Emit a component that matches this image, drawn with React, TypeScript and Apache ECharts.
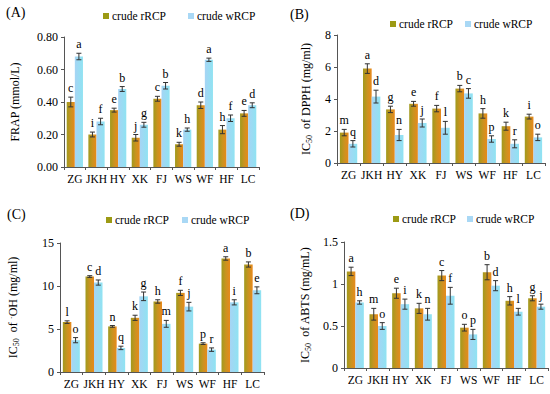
import React, { useEffect, useRef } from "react";
import * as echarts from "echarts";

const categories = ["ZG", "JKH", "HY", "XK", "FJ", "WS", "WF", "HF", "LC"];

// (A) FRAP
const frapR = [0.40, 0.20, 0.35, 0.18, 0.42, 0.14, 0.38, 0.23, 0.33];
const frapW = [0.68, 0.28, 0.48, 0.26, 0.50, 0.23, 0.66, 0.30, 0.38];
const frapRErr = [0.03, 0.015, 0.012, 0.02, 0.015, 0.012, 0.02, 0.025, 0.018];
const frapWErr = [0.02, 0.02, 0.015, 0.015, 0.02, 0.01, 0.01, 0.02, 0.015];
const frapRLet = ["c", "i", "e", "j", "c", "k", "d", "h", "e"];
const frapWLet = ["a", "f", "b", "g", "b", "h", "a", "f", "d"];

// (B) DPPH
const dpphR = [1.9, 5.9, 3.35, 3.7, 3.4, 4.65, 3.1, 2.3, 2.9];
const dpphW = [1.2, 4.15, 1.75, 2.5, 2.2, 4.35, 1.5, 1.2, 1.6];
const dpphRErr = [0.2, 0.3, 0.2, 0.15, 0.2, 0.2, 0.3, 0.25, 0.15];
const dpphWErr = [0.2, 0.4, 0.35, 0.25, 0.4, 0.3, 0.2, 0.25, 0.2];
const dpphRLet = ["m", "a", "g", "e", "f", "b", "h", "k", "i"];
const dpphWLet = ["q", "d", "n", "j", "l", "c", "p", "r", "o"];

// (C) ·OH
const ohR = [5.8, 11.1, 5.3, 6.3, 8.2, 9.2, 3.3, 13.2, 12.5];
const ohW = [3.7, 10.4, 2.8, 8.8, 5.6, 7.6, 2.6, 8.1, 9.5];
const ohRErr = [0.15, 0.1, 0.1, 0.3, 0.2, 0.3, 0.1, 0.2, 0.3];
const ohWErr = [0.3, 0.3, 0.2, 0.5, 0.4, 0.5, 0.2, 0.3, 0.4];
const ohRLet = ["l", "c", "n", "k", "h", "f", "p", "a", "b"];
const ohWLet = ["o", "d", "q", "g", "m", "j", "r", "i", "e"];

// (D) ABTS
const abtsR = [1.15, 0.64, 0.89, 0.71, 1.10, 0.48, 1.14, 0.80, 0.83];
const abtsW = [0.78, 0.50, 0.76, 0.64, 0.86, 0.40, 0.98, 0.67, 0.73];
const abtsRErr = [0.05, 0.07, 0.06, 0.06, 0.06, 0.04, 0.09, 0.05, 0.03];
const abtsWErr = [0.02, 0.04, 0.06, 0.07, 0.1, 0.06, 0.06, 0.04, 0.03];
const abtsRLet = ["a", "m", "e", "k", "c", "o", "b", "h", "g"];
const abtsWLet = ["h", "o", "i", "n", "f", "p", "d", "l", "j"];

const seriesNames = ["crude rRCP", "crude wRCP"];

const FONT = "'Liberation Serif', 'Times New Roman', serif";

export default function App() {
  const ref = useRef<HTMLDivElement>(null);
  useEffect(() => {
    if (!ref.current) return;
    const chart = echarts.init(ref.current, null, { renderer: "svg" });

    const rColor = new echarts.graphic.LinearGradient(0, 0, 1, 0, [
      { offset: 0, color: "#a09a1e" },
      { offset: 0.5, color: "#c99320" },
      { offset: 1, color: "#e8891c" },
    ]);
    const wColor = new echarts.graphic.LinearGradient(0, 0, 1, 0, [
      { offset: 0, color: "#a6d4f4" },
      { offset: 1, color: "#8fe3f2" },
    ]);

    const grids = [
      { left: 64, top: 37, width: 195, height: 130 },
      { left: 337, top: 35, width: 208, height: 128 },
      { left: 60, top: 243, width: 204, height: 129 },
      { left: 344, top: 242, width: 204, height: 126 },
    ];

    const panels = [
      { r: frapR, w: frapW, re: frapRErr, we: frapWErr, rl: frapRLet, wl: frapWLet, max: 0.8, interval: 0.2, fmt: (v: number) => v.toFixed(2), name: "FRAP (mmol/L)", gap: 43 },
      { r: dpphR, w: dpphW, re: dpphRErr, we: dpphWErr, rl: dpphRLet, wl: dpphWLet, max: 8, interval: 2, fmt: (v: number) => String(v), name: "IC{sub|50}  of DPPH (mg/ml)", gap: 24 },
      { r: ohR, w: ohW, re: ohRErr, we: ohWErr, rl: ohRLet, wl: ohWLet, max: 15, interval: 5, fmt: (v: number) => String(v), name: "IC{sub|50}  of {sup|·}OH (mg/ml)", gap: 40 },
      { r: abtsR, w: abtsW, re: abtsRErr, we: abtsWErr, rl: abtsRLet, wl: abtsWLet, max: 1.5, interval: 0.5, fmt: (v: number) => String(v), name: "IC{sub|50}  of ABTS (mg/mL)", gap: 32 },
    ];

    const axisLine = { show: true, lineStyle: { color: "#555", width: 1 } };

    const xAxis = grids.map((_, i) => ({
      type: "category",
      gridIndex: i,
      data: categories,
      axisLine,
      axisTick: { show: true, length: 3, lineStyle: { color: "#555" } },
      axisLabel: { interval: 0, fontFamily: FONT, fontSize: 11.5, color: "#000", margin: 6 },
    }));

    const yAxis = panels.map((p, i) => ({
      type: "value",
      gridIndex: i,
      min: 0,
      max: p.max,
      interval: p.interval,
      axisLine,
      axisTick: { show: true, length: 3, lineStyle: { color: "#555" } },
      splitLine: { show: false },
      axisLabel: { fontFamily: FONT, fontSize: 12, color: "#000", margin: 6, formatter: p.fmt },
      name: p.name,
      nameLocation: "middle",
      nameGap: p.gap,
      nameTextStyle: {
        fontFamily: FONT,
        fontSize: 12,
        color: "#000",
        rich: {
          sub: { fontFamily: FONT, fontSize: 8, color: "#000", verticalAlign: "bottom", padding: [6, 0, 0, 0] },
          sup: { fontFamily: FONT, fontSize: 9, color: "#000", verticalAlign: "top", padding: [0, 0, 4, 0] },
        },
      },
    }));

    const makeErr = (gi: number, vals: number[], errs: number[], lets: string[], side: number) => ({
      type: "custom",
      name: "err" + gi + "_" + side,
      xAxisIndex: gi,
      yAxisIndex: gi,
      z: 10,
      silent: true,
      data: vals.map((v, i) => [i, v, errs[i]]),
      renderItem: (params: any, api: any) => {
        const idx = api.value(0);
        const v = api.value(1);
        const e = api.value(2);
        const top = api.coord([idx, v + e]);
        const bot = api.coord([idx, v - e]);
        const band = api.size([1, 0])[0];
        const bw = (band * 0.75) / 2;
        const x = top[0] + (side === 0 ? -bw / 2 : bw / 2);
        const cap = 2.5;
        const ls = { stroke: "#333", lineWidth: 1 };
        return {
          type: "group",
          children: [
            { type: "line", shape: { x1: x, y1: top[1], x2: x, y2: bot[1] }, style: ls },
            { type: "line", shape: { x1: x - cap, y1: top[1], x2: x + cap, y2: top[1] }, style: ls },
            { type: "line", shape: { x1: x - cap, y1: bot[1], x2: x + cap, y2: bot[1] }, style: ls },
            {
              type: "text",
              x: x,
              y: top[1] - 3,
              style: {
                text: lets[params.dataIndex],
                fontFamily: FONT,
                fontSize: 12,
                fill: "#000",
                align: "center",
                verticalAlign: "bottom",
              },
            },
          ],
        };
      },
    });

    const series: any[] = [];
    panels.forEach((p, gi) => {
      series.push({
        type: "bar",
        name: seriesNames[0],
        xAxisIndex: gi,
        yAxisIndex: gi,
        data: p.r,
        barGap: "0%",
        barCategoryGap: "25%",
        itemStyle: { color: rColor },
      });
      series.push({
        type: "bar",
        name: seriesNames[1],
        xAxisIndex: gi,
        yAxisIndex: gi,
        data: p.w,
        barGap: "0%",
        barCategoryGap: "25%",
        itemStyle: { color: wColor },
      });
      series.push(makeErr(gi, p.r, p.re, p.rl, 0));
      series.push(makeErr(gi, p.w, p.we, p.wl, 1));
    });

    const legendPos = [
      { left: 103, top: 10, gap: 22 },
      { left: 390, top: 18, gap: 12 },
      { left: 106, top: 214, gap: 13 },
      { left: 393, top: 213, gap: 11 },
    ];

    const legend = legendPos.map((l) => ({
      left: l.left,
      top: l.top,
      itemWidth: 6,
      itemHeight: 6,
      itemGap: l.gap,
      icon: "rect",
      selectedMode: false,
      padding: 0,
      textStyle: { fontFamily: FONT, fontSize: 11.5, color: "#000", padding: [0, 0, 0, -2] },
      data: [
        { name: seriesNames[0], itemStyle: { color: "#9c9a14" } },
        { name: seriesNames[1], itemStyle: { color: "#a9d8f5" } },
      ],
    }));

    const labels = [
      { t: "(A)", x: 6, y: 13 },
      { t: "(B)", x: 290, y: 15 },
      { t: "(C)", x: 7, y: 215 },
      { t: "(D)", x: 290, y: 214 },
    ];

    chart.setOption({
      animation: false,
      backgroundColor: "#fff",
      grid: grids,
      xAxis,
      yAxis,
      legend,
      series,
      graphic: labels.map((l) => ({
        type: "text",
        left: l.x,
        top: l.y - 8,
        style: { text: l.t, fontFamily: FONT, fontSize: 14, fill: "#000" },
      })),
    });

    return () => chart.dispose();
  }, []);

  return <div ref={ref} style={{ width: 550, height: 394, position: "absolute", left: 0, top: 0 }} />;
}
